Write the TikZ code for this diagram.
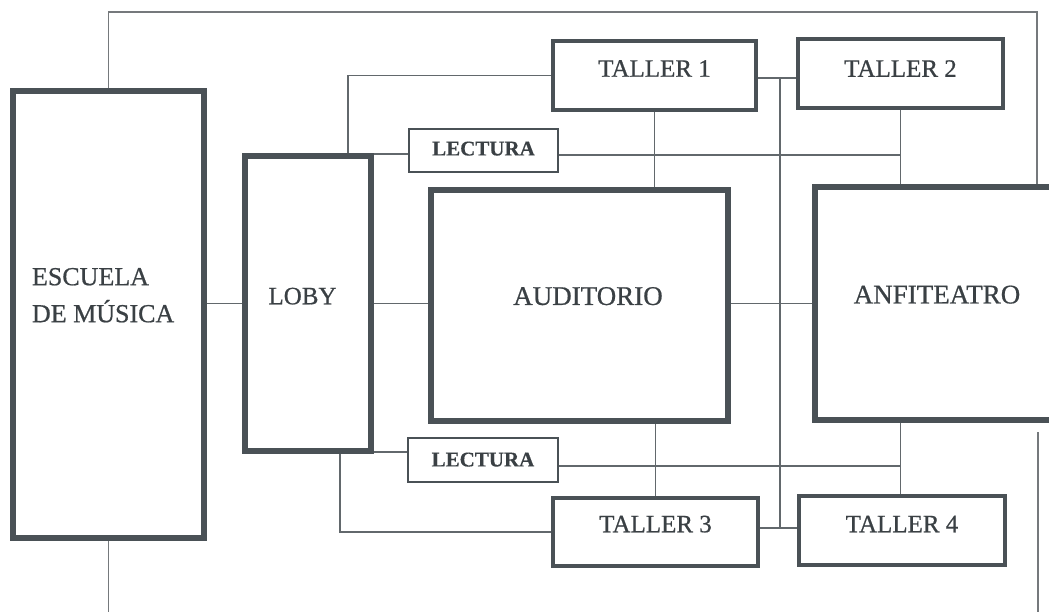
\documentclass[tikz,border=0pt]{standalone}
\usepackage{fontspec}
\setmainfont{Liberation Serif}[FakeBold=0.7]
\newfontfamily\lecfont{Liberation Serif Bold}[FakeBold=0.4]
\definecolor{boxc}{HTML}{4A5156}
\definecolor{linec}{HTML}{62686C}
\definecolor{framec}{HTML}{75797C}
\definecolor{txtc}{HTML}{3A4044}
\pgfdeclarelayer{background}
\pgfsetlayers{background,main}
\begin{document}
\begin{tikzpicture}[x=1pt,y=-1pt,
  basebox/.style={draw=boxc, inner sep=0pt, outer sep=0pt, text=txtc},
  thickbox/.style={basebox, line width=6.5pt},
  tallerbox/.style={basebox, line width=4pt, font=\fontsize{25}{30}\selectfont},
  lecbox/.style={basebox, line width=2.5pt, font=\lecfont\fontsize{21}{24}\selectfont},
  liftby/.style={text depth=#1},
  conn/.style={draw=linec, line width=1.6pt},
  framel/.style={draw=framec, line width=1.5pt},
  txt/.style={text=txtc, inner sep=0pt, outer sep=0pt}
]
\clip (0,0) rectangle (1049,612);
\useasboundingbox (0,0) rectangle (1049,612);

% main boxes
\node[thickbox, minimum width=191pt, minimum height=447pt] (escuela) at (108.5,314.5) {};
\node[txt, anchor=north west, align=left, font=\fontsize{26}{37}\selectfont] (escuelatxt) at (32,268) {ESCUELA\\DE MÚSICA};
\node[thickbox, minimum width=126pt, minimum height=295pt, font=\fontsize{25}{30}\selectfont, liftby=15pt] (loby) at (308,303.5) {LOBY\hspace*{11pt}};
\node[thickbox, minimum width=297pt, minimum height=231pt, font=\fontsize{27}{32}\selectfont, liftby=19pt] (auditorio) at (579.5,305.5) {\hspace*{17pt}AUDITORIO};
\node[thickbox, minimum width=244pt, minimum height=233pt, font=\fontsize{27}{32}\selectfont, liftby=18pt] (anfiteatro) at (937,303.5) {ANFITEATRO};

% talleres
\node[tallerbox, minimum width=203pt, minimum height=69pt, liftby=14pt] (taller1) at (654.5,75.5) {TALLER 1};
\node[tallerbox, minimum width=205pt, minimum height=69pt, liftby=10pt] (taller2) at (900.5,73.5) {TALLER 2};
\node[tallerbox, minimum width=205pt, minimum height=68pt, liftby=16pt] (taller3) at (655.5,532) {TALLER 3};
\node[tallerbox, minimum width=206pt, minimum height=69pt, liftby=13pt] (taller4) at (902,530.5) {TALLER 4};

% lecturas
\node[lecbox, minimum width=149pt, minimum height=43pt, liftby=4pt] (lectura1) at (483.5,150.5) {LECTURA};
\node[lecbox, minimum width=150pt, minimum height=44pt, liftby=1pt] (lectura2) at (483,460) {LECTURA};

% helper coordinates
\coordinate (ftr) at (1037,12);
\coordinate (fb) at (0,616);
\coordinate (frb) at (1038,432);
\coordinate (t12) at (780,78);
\coordinate (t34) at (780,528);
\coordinate (lt) at (348,76);
\coordinate (lb) at (340,531);
\coordinate (la) at (0,154);
\coordinate (lc) at (0,155);
\coordinate (ld) at (0,452);
\coordinate (le) at (0,466);

\begin{pgfonlayer}{background}
% outer frame
\draw[framel] (escuela.north) |- (ftr) -- (anfiteatro.north -| ftr);
\draw[framel] (escuela.south) -- (escuela.south |- fb);
\draw[framel] (frb) -- (frb |- fb);
% main axis
\draw[conn] (escuela.east |- loby.west) -- (loby.west);
\draw[conn] (loby.east) -- (auditorio.west |- loby.east);
\draw[conn] (auditorio.east |- anfiteatro.west) -- (anfiteatro.west);
% loby to talleres
\draw[conn] (loby.north -| lt) |- (taller1.west);
\draw[conn] (loby.south -| lb) |- (taller3.west);
% taller links
\draw[conn] (taller1.east |- t12) -- (taller2.west |- t12);
\draw[conn] (taller3.east |- t34) -- (taller4.west |- t34);
\draw[conn] (t12) -- (t34);
% verticals
\draw[conn] (taller1.south) -- (auditorio.north -| taller1.south);
\draw[conn] (taller2.south) -- (anfiteatro.north -| taller2.south);
\draw[conn] (auditorio.south -| taller3.north) -- (taller3.north);
\draw[conn] (anfiteatro.south -| taller2.south) -- (taller4.north -| taller2.south);
% lecturas
\draw[conn] (loby.east |- la) -- (lectura1.west |- la);
\draw[conn] (lectura1.east |- lc) -- (taller2.south |- lc);
\draw[conn] (loby.east |- ld) -- (lectura2.west |- ld);
\draw[conn] (lectura2.east |- le) -- (taller2.south |- le);
\end{pgfonlayer}
\end{tikzpicture}
\end{document}
